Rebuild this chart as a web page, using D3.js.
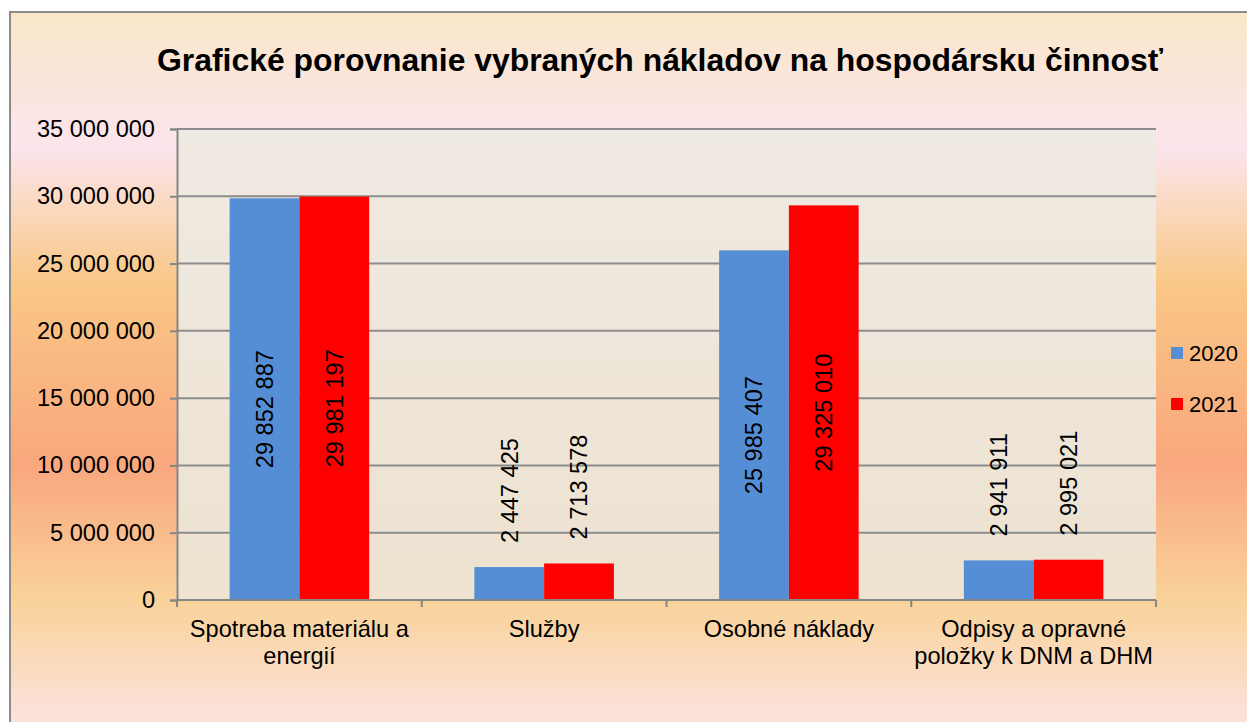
<!DOCTYPE html>
<html>
<head>
<meta charset="utf-8">
<script src="https://cdn.jsdelivr.net/npm/d3@7"></script>
<style>
  body { margin: 0; background: #fff; }
  svg { display: block; font-family: "Liberation Sans", Arial, sans-serif; }
</style>
</head>
<body>
<div id="chart"></div>
<script>
// categories and series
const categories = [
  ["Spotreba materiálu a", "energií"],
  ["Služby"],
  ["Osobné náklady"],
  ["Odpisy a opravné", "položky k DNM a DHM"]
];
const years = ["2020", "2021"];
const values2020 = [29852887, 2447425, 25985407, 2941911];
const values2021 = [29981197, 2713578, 29325010, 2995021];
const yTicks = [0, 5000000, 10000000, 15000000, 20000000, 25000000, 30000000, 35000000];
const colors = ["#558ED5", "#FF0000"];

const width = 1247, height = 722;
const margin = { top: 129, right: 91, bottom: 122, left: 177 };
const fontSize = 23.6;

const svg = d3.select("#chart").append("svg")
  .attr("width", width)
  .attr("height", height);

const defs = svg.append("defs");

// outer background gradient
const bgGrad = defs.append("linearGradient")
  .attr("id", "bg").attr("x1", 0).attr("y1", 0).attr("x2", 0).attr("y2", 1);
[[0, "#FAE7C9"], [0.19, "#FCE4EC"], [0.27, "#FAD9C0"], [0.38, "#F9C785"],
 [0.63, "#F9A77E"], [0.82, "#F9D39B"], [1, "#FCE3E3"]]
  .forEach(s => bgGrad.append("stop").attr("offset", s[0]).attr("stop-color", s[1]));

const plotGrad = defs.append("linearGradient")
  .attr("id", "plotbg").attr("x1", 0).attr("y1", 0).attr("x2", 0).attr("y2", 1);
plotGrad.append("stop").attr("offset", 0).attr("stop-color", "#EFEAE3");
plotGrad.append("stop").attr("offset", 1).attr("stop-color", "#EEE2D0");

// chart area with border (runs past the window edges)
svg.append("rect")
  .attr("x", 10).attr("y", 12)
  .attr("width", width + 20).attr("height", height - 12 + 10)
  .attr("fill", "url(#bg)")
  .attr("stroke", "#8C8C8C").attr("stroke-width", 2);

// title
svg.append("text")
  .attr("x", 660).attr("y", 71)
  .attr("text-anchor", "middle")
  .attr("font-size", 31.9)
  .attr("font-weight", "bold")
  .text("Grafické porovnanie vybraných nákladov na hospodársku činnosť");

const plotW = width - margin.left - margin.right;
const plotH = height - margin.top - margin.bottom;

const x = d3.scaleBand()
  .domain(d3.range(categories.length))
  .range([margin.left, margin.left + plotW])
  .paddingInner(0.43)
  .paddingOuter(0.215);

const x1 = d3.scaleBand()
  .domain(years)
  .range([0, x.bandwidth()]);

const y = d3.scaleLinear()
  .domain([0, 35000000])
  .range([margin.top + plotH, margin.top]);

// plot area
svg.append("rect")
  .attr("x", margin.left).attr("y", margin.top)
  .attr("width", plotW).attr("height", plotH)
  .attr("fill", "url(#plotbg)");

const fmt = v => d3.format(",")(v).replace(/,/g, " ");

// gridlines
svg.append("g")
  .selectAll("line")
  .data(yTicks.slice(1))
  .join("line")
  .attr("x1", margin.left).attr("x2", margin.left + plotW)
  .attr("y1", d => y(d)).attr("y2", d => y(d))
  .attr("stroke", "#8C8C8C").attr("stroke-width", 2);

// y axis
const yAxis = svg.append("g")
  .attr("transform", `translate(${margin.left},0)`)
  .call(d3.axisLeft(y).tickValues(yTicks).tickFormat(fmt).tickSize(7).tickPadding(15));
yAxis.selectAll("path, line").attr("stroke", "#868686").attr("stroke-width", 2);
yAxis.selectAll("text").attr("font-size", fontSize).attr("fill", "#000")
  .attr("font-family", "Liberation Sans, Arial, sans-serif");

// bars
const series = [values2020, values2021];
const groups = svg.append("g")
  .selectAll("g")
  .data(categories.map((c, i) => i))
  .join("g")
  .attr("transform", i => `translate(${x(i)},0)`);

groups.selectAll("rect")
  .data(i => years.map((yr, k) => ({ yr, k, v: series[k][i] })))
  .join("rect")
  .attr("x", d => x1(d.yr))
  .attr("width", x1.bandwidth())
  .attr("y", d => y(d.v))
  .attr("height", d => y(0) - y(d.v))
  .attr("fill", d => colors[d.k]);

// data labels, rotated
groups.selectAll("text")
  .data(i => years.map((yr, k) => ({ yr, k, v: series[k][i] })))
  .join("text")
  .attr("font-size", fontSize)
  .attr("dy", "0.35em")
  .attr("text-anchor", d => d.v > 10000000 ? "middle" : "start")
  .attr("transform", d => {
    const cx = x1(d.yr) + x1.bandwidth() / 2;
    const cy = d.v > 10000000 ? (y(d.v) + y(0)) / 2 + 10 : y(d.v) - 24;
    return `translate(${cx},${cy}) rotate(-90)`;
  })
  .text(d => fmt(d.v));

// x axis
const xAxis = svg.append("g")
  .attr("transform", `translate(0,${margin.top + plotH})`);
xAxis.append("line")
  .attr("x1", margin.left).attr("x2", margin.left + plotW)
  .attr("stroke", "#868686").attr("stroke-width", 2);
const step = plotW / categories.length;
xAxis.selectAll(".tick")
  .data(d3.range(categories.length + 1))
  .join("line")
  .attr("class", "tick")
  .attr("x1", d => margin.left + d * step).attr("x2", d => margin.left + d * step)
  .attr("y1", 0).attr("y2", 7)
  .attr("stroke", "#868686").attr("stroke-width", 2);

xAxis.selectAll(".cat")
  .data(categories)
  .join("text")
  .attr("class", "cat")
  .attr("font-size", fontSize)
  .attr("text-anchor", "middle")
  .attr("transform", (d, i) => `translate(${x(i) + x.bandwidth() / 2},37)`)
  .selectAll("tspan")
  .data(d => d)
  .join("tspan")
  .attr("x", 0)
  .attr("y", (d, j) => j * 27)
  .text(d => d);

// legend
const legend = svg.append("g")
  .selectAll("g")
  .data(years)
  .join("g")
  .attr("transform", (d, i) => `translate(1171,${353 + i * 51})`);
legend.append("rect")
  .attr("x", 0).attr("y", -6)
  .attr("width", 12).attr("height", 12)
  .attr("fill", (d, i) => colors[i]);
legend.append("text")
  .attr("x", 18).attr("dy", "0.36em")
  .attr("font-size", 22)
  .text(d => d);
</script>
</body>
</html>
